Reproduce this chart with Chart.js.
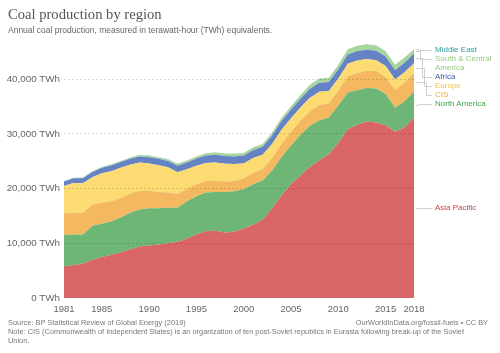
<!DOCTYPE html>
<html>
<head>
<meta charset="utf-8">
<script src="https://cdn.jsdelivr.net/npm/chart.js@4.4.1/dist/chart.umd.min.js"></script>
<style>
  body { margin: 0; background: #fff; }
  #wrap { position: relative; width: 500px; height: 353px; font-family: "Liberation Sans", Arial, sans-serif; }
  #wrap canvas { position: absolute; left: 0; top: 0; }
  .t { position: absolute; white-space: nowrap; line-height: 1; }
  .lbl { position: absolute; left: 435px; font-size: 8px; line-height: 1; white-space: nowrap; }
</style>
</head>
<body>
<div id="wrap">
  <canvas id="chart" width="500" height="353"></canvas>
  <div class="t" style="left:8px;top:7px;font-family:'Liberation Serif',serif;font-size:14.6px;color:#555">Coal production by region</div>
  <div class="t" style="left:8px;top:26px;font-size:8.5px;color:#666">Annual coal production, measured in terawatt-hour (TWh) equivalents.</div>
  <div class="t" style="left:8px;top:319px;font-size:7.4px;color:#777">Source: BP Statistical Review of Global Energy (2019)</div>
  <div class="t" style="right:12px;top:319px;font-size:7.4px;color:#777">OurWorldInData.org/fossil-fuels • CC BY</div>
  <div class="t" style="left:8px;top:328px;font-size:7.4px;color:#777">Note: CIS (Commonwealth of Independent States) is an organization of ten post-Soviet republics in Eurasia following break-up of the Soviet</div>
  <div class="t" style="left:8px;top:337px;font-size:7.4px;color:#777">Union.</div>
  <div class="lbl" style="top:46px;color:#2e9ea0">Middle East</div>
  <div class="lbl" style="top:55px;color:#94c982">South &amp; Central</div>
  <div class="lbl" style="top:63.5px;color:#94c982">America</div>
  <div class="lbl" style="top:73px;color:#3c5da8">Africa</div>
  <div class="lbl" style="top:82px;color:#f3c440">Europe</div>
  <div class="lbl" style="top:91px;color:#f0a63a">CIS</div>
  <div class="lbl" style="top:100px;color:#46a04e">North America</div>
  <div class="lbl" style="top:204px;color:#d33c3c">Asia Pacific</div>
</div>
<script>
// years 1981..2018, values in TWh
const years = [];
for (let y = 1981; y <= 2018; y++) years.push(String(y));
const shownYears = [1981, 1985, 1990, 1995, 2000, 2005, 2010, 2015, 2018];
const yTicks = [0, 10000, 20000, 30000, 40000];

const asiaPacific = [5800, 6000, 6300, 7000, 7500, 7900, 8300, 8900, 9400, 9600,
  9800, 10000, 10300, 10900, 11600, 12200, 12300, 12000, 12100, 12700,
  13400, 14300, 16400, 18800, 20800, 22400, 24000, 25200, 26300, 28400,
  30800, 31700, 32300, 32100, 31600, 30400, 31200, 33000];
const northAmerica = [5700, 5600, 5300, 6200, 6100, 6100, 6400, 6700, 6800, 6800,
  6600, 6500, 6200, 6800, 7000, 7100, 7100, 7400, 7400, 7200,
  7400, 7200, 6900, 7000, 7100, 7400, 7500, 7300, 6700, 6800,
  6800, 6300, 6100, 6200, 5700, 4400, 4800, 4700];
const cis = [4000, 4000, 3950, 3850, 3800, 3700, 3600, 3500, 3400, 3200,
  3000, 2800, 2500, 2300, 2200, 2100, 2000, 1900, 1900, 2000,
  2100, 2100, 2300, 2400, 2500, 2600, 2650, 2800, 2600, 2750,
  2950, 3150, 3150, 3150, 3150, 3250, 3400, 3450];
const europe = [5000, 5450, 5450, 5050, 5400, 5500, 5500, 5250, 5200, 5000,
  4900, 4600, 4000, 3550, 3400, 3300, 3400, 3250, 3100, 2700,
  2700, 2600, 2550, 2550, 2450, 2450, 2450, 2400, 2250, 2200,
  2300, 2300, 2150, 2050, 2000, 1900, 1900, 1800];
const africa = [800, 850, 900, 950, 1000, 1050, 1050, 1100, 1100, 1150,
  1150, 1150, 1200, 1250, 1300, 1350, 1400, 1400, 1400, 1450,
  1450, 1450, 1550, 1600, 1600, 1600, 1650, 1650, 1650, 1680,
  1680, 1700, 1700, 1730, 1700, 1700, 1720, 1750];
const southCentralAmerica = [100, 100, 110, 130, 160, 180, 200, 230, 260, 280,
  300, 300, 320, 340, 370, 400, 450, 460, 450, 470,
  500, 500, 550, 600, 620, 680, 740, 800, 780, 820,
  950, 980, 1000, 1000, 980, 980, 950, 800];
const middleEast = [10, 10, 10, 10, 10, 10, 12, 12, 12, 12,
  12, 12, 12, 12, 12, 12, 12, 12, 12, 12,
  12, 12, 12, 12, 12, 12, 12, 12, 12, 12,
  12, 12, 12, 12, 12, 12, 12, 12];

const series = [
  { label: "Asia Pacific", data: asiaPacific, color: "#d96566", labelY: 207.7 },
  { label: "North America", data: northAmerica, color: "#6db675", labelY: 104 },
  { label: "CIS", data: cis, color: "#f4b860", labelY: 95 },
  { label: "Europe", data: europe, color: "#fcdb73", labelY: 86 },
  { label: "Africa", data: africa, color: "#6583c4", labelY: 77 },
  { label: "South & Central America", data: southCentralAmerica, color: "#a6d59d", labelY: 59 },
  { label: "Middle East", data: middleEast, color: "#3aa3a3", labelY: 50 },
];

// leader lines from the last point of each band to its label
const leaderLines = {
  id: "leaderLines",
  afterDatasetsDraw(chart) {
    const { ctx, chartArea, scales } = chart;
    const last = years.length - 1;
    let base = 0;
    ctx.save();
    ctx.strokeStyle = "#cfcfcf";
    ctx.lineWidth = 1;
    series.forEach((s, i) => {
      const v = s.data[last];
      const yMid = scales.y.getPixelForValue(base + v / 2);
      base += v;
      const x0 = chartArea.right + 2;
      const xv = chartArea.right + 4 + (i >= 2 ? (6 - i) * 2 : 0);
      const x1 = chartArea.right + 18;
      ctx.beginPath();
      ctx.moveTo(x0, Math.round(yMid) + 0.5);
      ctx.lineTo(xv + 0.5, Math.round(yMid) + 0.5);
      ctx.lineTo(xv + 0.5, Math.round(s.labelY) + 0.5);
      ctx.lineTo(x1, Math.round(s.labelY) + 0.5);
      ctx.stroke();
    });
    ctx.restore();
  },
};

new Chart(document.getElementById("chart"), {
  type: "line",
  data: {
    labels: years,
    datasets: series.map((s, i) => ({
      label: s.label,
      data: s.data,
      backgroundColor: s.color,
      borderColor: "transparent",
      borderWidth: 0,
      pointRadius: 0,
      tension: 0,
      fill: i === 0 ? "origin" : "-1",
    })),
  },
  options: {
    responsive: false,
    animation: false,
    layout: { padding: { top: 41, right: 86, bottom: 0, left: 0 } },
    plugins: { legend: { display: false }, tooltip: { enabled: false } },
    scales: {
      x: {
        grid: { display: false, drawTicks: false },
        border: { display: false },
        afterFit(scale) { scale.height = 55; },
        ticks: {
          autoSkip: false,
          maxRotation: 0,
          padding: 6,
          color: "#666",
          font: { family: "Liberation Sans", size: 9.5 },
          callback(val) {
            const y = this.getLabelForValue(val);
            return shownYears.includes(+y) ? y : null;
          },
        },
      },
      y: {
        stacked: true,
        min: 0,
        max: 47000,
        afterFit(scale) { scale.width = 64; },
        afterBuildTicks(scale) { scale.ticks = yTicks.map(v => ({ value: v })); },
        grid: {
          z: 1,
          drawTicks: false,
          color: ctx => (ctx.tick && ctx.tick.value === 0 ? "transparent" : "rgba(0,0,0,0.14)"),
          lineWidth: 1,
        },
        border: { display: false, dash: [2, 2] },
        ticks: {
          padding: 4,
          color: "#666",
          font: { family: "Liberation Sans", size: 9.8 },
          callback: v => v.toLocaleString("en-US") + " TWh",
        },
      },
    },
  },
  plugins: [leaderLines],
});
</script>
</body>
</html>
